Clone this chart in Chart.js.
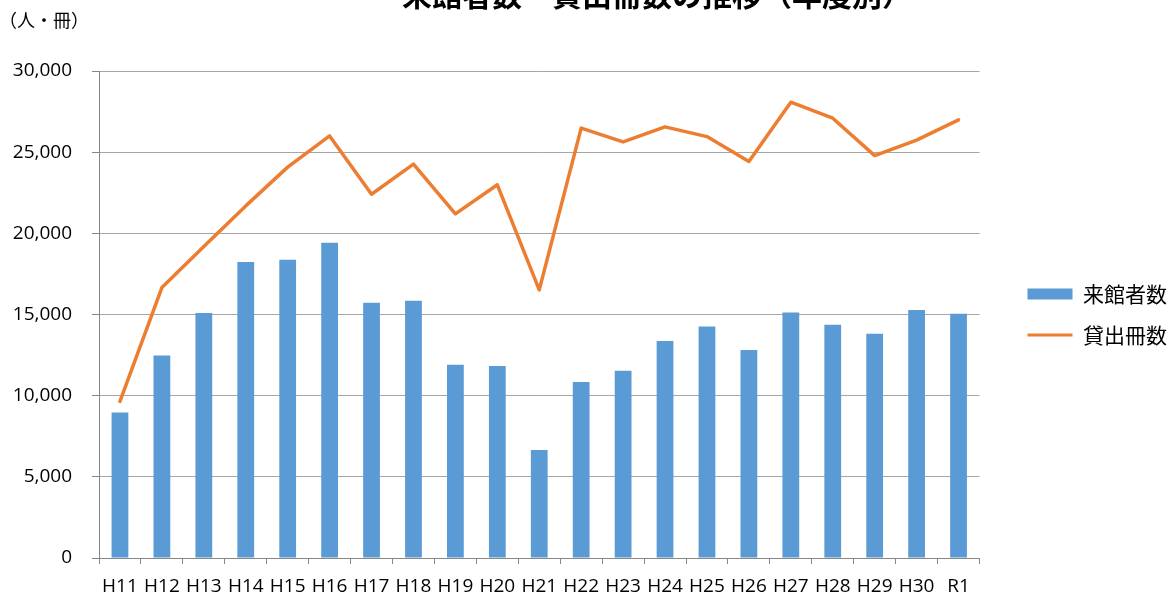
<!DOCTYPE html>
<html>
<head>
<meta charset="utf-8">
<title>来館者数・貸出冊数の推移（年度別）</title>
<script src="https://cdn.jsdelivr.net/npm/chart.js@4"></script>
<style>
  html, body { margin: 0; padding: 0; background: #fff; overflow: hidden; }
  #wrap { position: relative; width: 1173px; height: 596px; }
</style>
</head>
<body>
<div id="wrap"><canvas id="myChart1"></canvas></div>
<script>
const years = ['H11', 'H12', 'H13', 'H14', 'H15', 'H16', 'H17', 'H18', 'H19', 'H20', 'H21',
  'H22', 'H23', 'H24', 'H25', 'H26', 'H27', 'H28', 'H29', 'H30', 'R1'];
// 来館者数
const visitors = [8970, 12480, 15090, 18230, 18370, 19420, 15720, 15840, 11900, 11820, 6650,
  10840, 11530, 13360, 14260, 12810, 15120, 14370, 13810, 15270, 15040];
// 貸出冊数
const loans = [9650, 16660, 19190, 21690, 24080, 26000, 22410, 24260, 21200, 22990, 16520,
  26480, 25630, 26560, 25960, 24420, 28080, 27090, 24790, 25740, 26990];
const yTicks = [0, 5000, 10000, 15000, 20000, 25000, 30000];

const titleText = '来館者数・貸出冊数の推移（年度別）';
const unitText = '（人・冊）';

// title is cut off at the top in the original, so draw it by hand
const extraText = {
  id: 'extraText',
  afterDraw(chart) {
    const c = chart.ctx;
    c.save();
    c.fillStyle = '#000';
    c.textBaseline = 'alphabetic';
    c.textAlign = 'center';
    c.font = 'bold 30px "Noto Sans CJK JP"';
    c.fillText(titleText, 657, 6);
    c.textAlign = 'left';
    c.textBaseline = 'middle';
    c.font = '18px "Noto Sans CJK JP"';
    c.fillText(unitText, -1, 20);
    c.restore();
  }
};

const ctx = document.getElementById('myChart1');
new Chart(ctx, {
  data: {
    labels: years,
    datasets: [{
      type: 'bar',
      label: '来館者数',
      data: visitors,
      backgroundColor: '#5B9BD5',
      borderWidth: 0,
      barPercentage: 0.4,
      categoryPercentage: 1.0,
      pointStyle: 'rect',
      order: 1
    }, {
      type: 'line',
      label: '貸出冊数',
      data: loans,
      borderColor: '#ED7D31',
      backgroundColor: '#ED7D31',
      borderWidth: 3.5,
      borderJoinStyle: 'round',
      borderCapStyle: 'round',
      tension: 0,
      pointRadius: 0,
      pointHoverRadius: 0,
      pointStyle: 'line',
      pointBorderColor: '#ED7D31',
      pointBorderWidth: 3,
      order: 0
    }]
  },
  options: {
    responsive: true,
    maintainAspectRatio: false,
    animation: false,
    layout: { padding: { top: 71, right: -4, bottom: 0, left: 0 } },
    plugins: {
      tooltip: { enabled: false },
      legend: {
        position: 'right',
        fullSize: false,
        labels: {
          usePointStyle: true,
          pointStyleWidth: 45,
          boxHeight: 11,
          padding: 20,
          color: '#000',
          font: { family: '"Noto Sans CJK JP"', size: 21 },
          sort: (a, b) => a.datasetIndex - b.datasetIndex
        }
      }
    },
    scales: {
      x: {
        offset: true,
        grid: { display: true, drawOnChartArea: false, drawTicks: true, tickLength: 6, color: '#868686', offset: true },
        border: { display: true, color: '#868686', width: 1 },
        ticks: { color: '#000', font: { family: '"Open Sans"', size: 19 }, padding: 11, maxRotation: 0, autoSkip: false },
        afterFit(s) { s.height = 38; }
      },
      y: {
        min: 0,
        max: 30000,
        afterBuildTicks(s) { s.ticks = yTicks.map(v => ({ value: v })); },
        grid: { color: '#A6A6A6', tickLength: 7, tickColor: '#868686' },
        border: { display: true, color: '#868686', width: 1 },
        ticks: {
          color: '#000',
          padding: 20,
          font: { family: '"Open Sans"', size: 19 },
          callback: v => v.toLocaleString('en-US')
        },
        afterFit(s) { s.width = 99; }
      },
      gap: {
        type: 'linear',
        position: 'right',
        display: true,
        grid: { display: false },
        border: { display: false },
        ticks: { display: false },
        afterFit(s) { s.width = 28; }
      }
    }
  },
  plugins: [extraText]
});
</script>
</body>
</html>
